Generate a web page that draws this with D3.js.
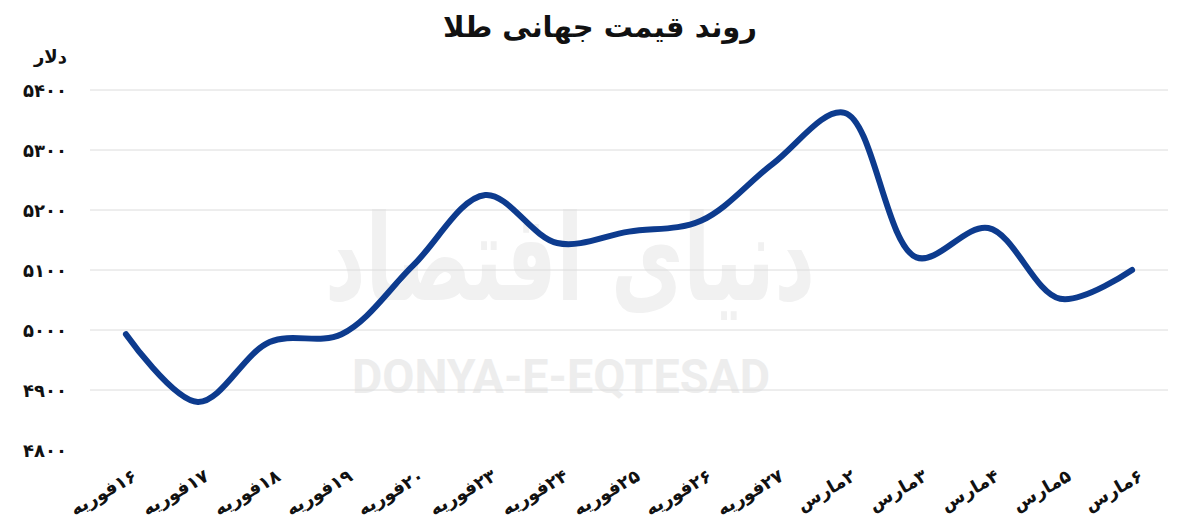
<!DOCTYPE html>
<html>
<head>
<meta charset="utf-8">
<script src="https://cdn.jsdelivr.net/npm/d3@7"></script>
<style>
html,body{margin:0;padding:0;background:#fff;}
svg{display:block;}
</style>
</head>
<body>
<svg id="chart" width="1200" height="532"></svg>
<script>
const categories = ["۱۶فوریه","۱۷فوریه","۱۸فوریه","۱۹فوریه","۲۰فوریه","۲۳فوریه","۲۴فوریه","۲۵فوریه","۲۶فوریه","۲۷فوریه","۲مارس","۳مارس","۴مارس","۵مارس","۶مارس"];
const goldPrice = [4993, 4880, 4980, 4993, 5108, 5225, 5145, 5164, 5182, 5277, 5362, 5121, 5170, 5052, 5100];
const yTicks = [4800, 4900, 5000, 5100, 5200, 5300, 5400];
const gridTicks = [4900, 5000, 5100, 5200, 5300, 5400];
const titleText = "روند قیمت جهانی طلا";
const unitText = "دلار";
const watermarkFa = "دنیای اقتصاد";
const watermarkEn = "DONYA-E-EQTESAD";

const faDigits = s => String(s).replace(/[0-9]/g, d => "۰۱۲۳۴۵۶۷۸۹"[+d]);
const font = "'DejaVu Sans', sans-serif";

const svg = d3.select("#chart");
const x = d3.scaleBand().domain(categories).range([90, 1168]).padding(0);
const y = d3.scaleLinear().domain([4800, 5400]).range([450, 90]);

// watermark
svg.append("text").attr("x", 570).attr("y", 300)
  .attr("text-anchor", "middle").attr("direction", "rtl")
  .attr("font-family", font).attr("font-size", 120).attr("font-weight", "bold")
  .attr("fill", "#f1f1f1").attr("textLength", 490).attr("lengthAdjust", "spacingAndGlyphs")
  .text(watermarkFa);
svg.append("text").attr("x", 561).attr("y", 393)
  .attr("text-anchor", "middle")
  .attr("font-family", "Roboto, sans-serif").attr("font-size", 48).attr("font-weight", "bold")
  .attr("fill", "#ededed").attr("textLength", 418).attr("lengthAdjust", "spacingAndGlyphs")
  .text(watermarkEn);

// gridlines
svg.append("g").selectAll("line").data(gridTicks).join("line")
  .attr("x1", 90).attr("x2", 1168)
  .attr("y1", d => y(d)).attr("y2", d => y(d))
  .attr("stroke", "#dcdcdc").attr("stroke-width", 1);

// y axis labels
const yAxis = d3.axisLeft(y).tickValues(yTicks).tickFormat(faDigits).tickSize(0).tickPadding(0);
const gy = svg.append("g").attr("transform", "translate(67,0)").call(yAxis);
gy.select(".domain").remove();
gy.selectAll("text").attr("font-family", font).attr("font-size", 18).attr("font-weight", "bold")
  .attr("fill", "#111").attr("dy", "0.35em");

// unit
svg.append("text").attr("x", 67).attr("y", 63).attr("text-anchor", "end")
  .attr("font-family", font).attr("font-size", 18).attr("font-weight", "bold").attr("fill", "#111")
  .text(unitText);

// x axis labels
const xAxis = d3.axisBottom(x).tickSize(0).tickPadding(0);
const gx = svg.append("g").attr("transform", "translate(0,450)").call(xAxis);
gx.select(".domain").remove();
gx.selectAll(".tick text")
  .attr("font-family", font).attr("font-size", 18).attr("font-weight", "bold").attr("fill", "#111")
  .attr("direction", "rtl")
  .attr("text-anchor", "start")
  .attr("y", 0).attr("dy", "0.35em")
  .attr("transform", "translate(9,24) rotate(-30)");

// line
const line = d3.line()
  .x((d, i) => x(categories[i]) + x.bandwidth() / 2)
  .y(d => y(d))
  .curve(d3.curveCatmullRom.alpha(0.5));
svg.append("path").datum(goldPrice)
  .attr("d", line).attr("fill", "none")
  .attr("stroke", "#0d3b8e").attr("stroke-width", 6)
  .attr("stroke-linecap", "round").attr("stroke-linejoin", "round");

// title
svg.append("text").attr("x", 600).attr("y", 37).attr("text-anchor", "middle").attr("direction", "rtl")
  .attr("font-family", font).attr("font-size", 29).attr("font-weight", "bold").attr("fill", "#111")
  .text(titleText);
</script>
</body>
</html>
